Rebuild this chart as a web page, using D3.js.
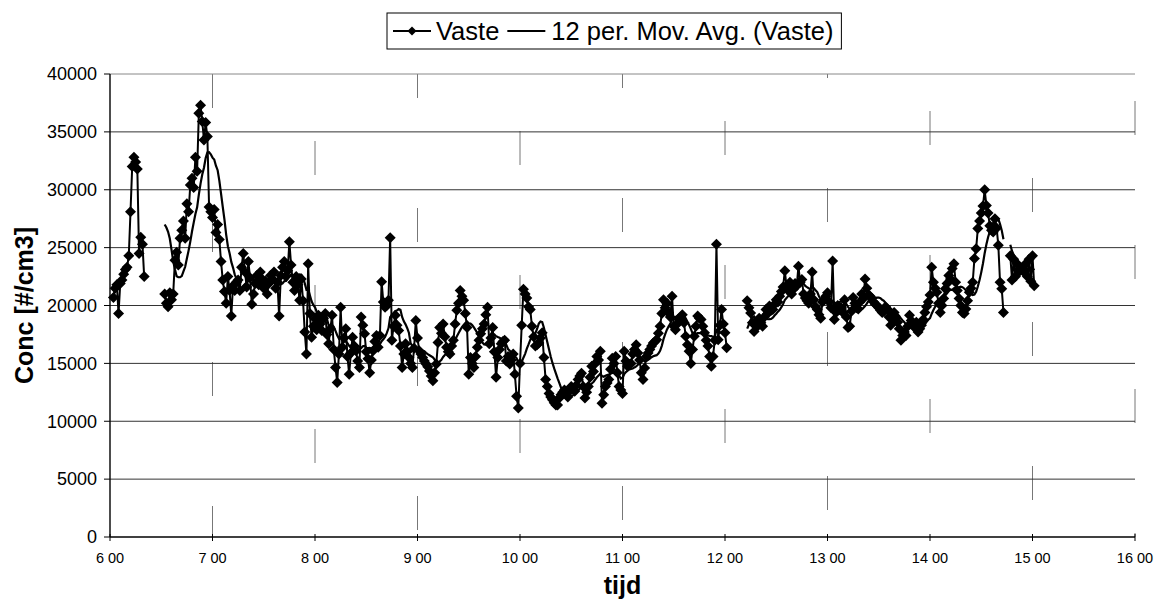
<!DOCTYPE html>
<meta charset="utf-8">
<style>
  body { margin: 0; background: #fff; }
  text { font-family: "Liberation Sans", Arial, sans-serif; fill: #000; }
</style>
<svg width="1176" height="613"></svg>
<script src="https://d3js.org/d3.v7.min.js"></script>
<script>

// measured series, one value per minute, blank between the runs
var runStarts = ["6:02", "6:32", "12:13", "14:47"];

var runA = [20700, 21500, 21800, 19300, 21900, 22200, 22700, 23100, 23300, 24300,
  28100, 32000, 32800, 32400, 31800, 24500, 25900, 25300, 22500];

var runB = [
  21000, 20200, 19900, 21100, 20500, 21000, 23900, 24600, 23500, 25800,
  26500, 27300, 25800, 28800, 28100, 30400, 31000, 30200, 32800, 31600,
  36600, 37300, 35900, 34300, 35800, 34600, 28500, 28100, 27600, 28300,
  26300, 27000, 25700, 23800, 22200, 21200, 20200, 22500, 21300, 19100,
  21700, 21300, 22000, 22200, 21300, 23300, 24500, 22900, 21600, 23800,
  22400, 20100, 21000, 21900, 22600, 21800, 22900, 22300, 21500, 22100,
  21000, 21900, 22600, 22300, 22900, 21500, 22000, 19100, 22600, 23300,
  23800, 22500, 23000, 25500, 23500, 22000, 21300, 22500, 21800, 20450,
  22300, 20400, 17700, 15800, 23600, 19300, 17250, 18200, 18850, 17900,
  19150, 18400, 17850, 18900, 19300, 17500, 16700, 18000, 19150, 16200,
  14650, 13350, 15800, 19850, 16400, 17200, 18000, 15600, 14050, 15900,
  17250, 16500, 16100, 15200, 14650, 19000, 18300, 17550, 16000, 15400,
  14200, 15300, 16100, 16900, 17400, 16400, 17400, 22050, 20300, 19850,
  20000, 20450, 25850, 17000, 18200, 19150, 18300, 17850, 16500, 14650,
  15800, 16700, 16000, 15500, 15000, 14650, 16300, 18700, 17200, 16100,
  15800, 15500, 15200, 14950, 14700, 14350, 13900, 13500, 14200, 14950,
  16800, 18100, 17600, 18400, 17300, 16400, 16000, 15800, 16500, 17000,
  18400, 19600, 20200, 21300, 20800, 20450, 19300, 18100, 14050, 15500,
  15000, 14650, 15600, 16400, 17000, 17550, 18000, 18400, 19200, 19850,
  16700, 17200, 18100, 16000, 13800, 15500, 16200, 16700, 16900, 17000,
  15200, 15600, 14950, 15300, 15800, 14050, 12150, 11150, 15000, 18300,
  21400, 21000, 20650, 19900, 19650, 18200, 17300, 16500, 16600, 16750,
  17200, 17650, 15500, 13600, 13000, 12400, 12100, 11850, 11600, 11400,
  11400, 12000, 12300, 12500, 12700, 12400, 12100, 12600, 13000, 12800,
  12600, 13100, 13600, 13900, 14150, 13000, 12000, 12500, 13000, 13800,
  14750, 14300, 15000, 15600, 15300, 16050, 11550, 12300, 13000, 13300,
  13600, 14500, 15450, 15000, 15600, 14200, 13000, 12700, 12400, 16050,
  15200, 14750, 14900, 15000, 15800, 16200, 16600, 15900, 15300, 14200,
  13600, 14600, 15600, 15900, 16200, 16500, 16750, 16900, 17050, 17600,
  18200, 19300, 20500, 19800, 20200, 19350, 19000, 20800, 18200, 17900,
  18400, 18800, 19000, 19200, 18500, 17350, 16600, 16050, 15000, 16200,
  17350, 18200, 19100, 18900, 18800, 18200, 17650, 17000, 16500, 15600,
  14750, 15600, 17000, 25300, 17050, 18300, 19650, 18400, 17650, 16350];

var runC = [
  20400, 19800, 19350, 18500, 17750, 18600, 18200, 18900, 18500, 18200,
  19000, 19650, 19300, 19950, 19600, 19650, 20100, 20500, 20300, 20800,
  21200, 21600, 23000, 21700, 21300, 22000, 21000, 21400, 21900, 21700,
  23400, 22000, 22250, 21000, 20650, 20400, 20200, 21000, 22900, 20500,
  19900, 19650, 19200, 18900, 20300, 20500, 20800, 21100, 20300, 19800,
  23850, 18800, 19400, 20000, 19650, 19800, 19400, 20500, 19000, 18100,
  18200, 19500, 20700, 20200, 19800, 19700, 20300, 21000, 20600, 22300,
  21500, 20900, 20800, 20600, 20300, 20100, 20000, 19800, 19600, 19400,
  19500, 19900, 19700, 19000, 18300, 18800, 19400, 18900, 18550, 18000,
  17000, 17400, 17700, 17400, 18200, 19150, 18700, 18300, 18100, 18550,
  17700, 18000, 18300, 18800, 19400, 19900, 20300, 20900, 23300, 22000,
  21500, 21150, 20200, 19400, 20000, 20600, 21450, 21900, 22600, 22300,
  23200, 23600, 22000, 21300, 20600, 20000, 19400, 19300, 19700, 20400,
  21150, 21500, 22000, 24050, 24900, 26650, 27300, 28000, 28600, 30000,
  28650, 28000, 26900, 26500, 26350, 27500, 26700, 25200, 22000, 21450,
  19400];

var runD = [24300, 22200, 24000, 22500, 23600, 22900, 23200, 23200, 22900, 23600,
  22500, 24000, 22100, 24300, 21700];

var runs = [runA, runB, runC, runD];

var yTicks = [0, 5000, 10000, 15000, 20000, 25000, 30000, 35000, 40000];
var xHours = [6, 7, 8, 9, 10, 11, 12, 13, 14, 15, 16];

var seriesName = "Vaste";
var avgName = "12 per. Mov. Avg. (Vaste)";
var avgPeriod = 12;

function minutes(s) {
  var p = s.split(":");
  return +p[0] * 60 + +p[1];
}

// points per run
var segments = runs.map(function(run, k) {
  var t0 = minutes(runStarts[k]);
  return run.map(function(v, i) { return {t: t0 + i, v: v}; });
});

// trailing moving average over the non-blank points, broken at the blanks
var seen = [];
var avgSegments = segments.map(function(seg) {
  var out = [];
  seg.forEach(function(d) {
    seen.push(d.v);
    if (seen.length >= avgPeriod) {
      out.push({t: d.t, v: d3.mean(seen.slice(-avgPeriod))});
    }
  });
  return out;
});
// the trendline only shows up from the second run on
avgSegments = avgSegments.slice(1);

var svg = d3.select("svg");
var plotLeft = 110, plotRight = 1135, plotTop = 74, plotBottom = 537;

var x = d3.scaleLinear().domain([360, 960]).range([plotLeft, plotRight]);
var y = d3.scaleLinear().domain([0, 40000]).range([plotBottom, plotTop]);

// faint remains of the vertical gridlines
svg.append("g")
  .selectAll("line")
  .data(xHours.slice(1))
  .enter().append("line")
    .attr("x1", function(d) { return x(d * 60); })
    .attr("x2", function(d) { return x(d * 60); })
    .attr("y1", plotTop)
    .attr("y2", plotBottom)
    .attr("stroke", "#777")
    .attr("stroke-width", 1)
    .attr("stroke-dasharray", "34,110")
    .attr("stroke-dashoffset", function(d, i) { return -((i * 67) % 144); });

// gridlines
svg.append("g")
  .selectAll("line")
  .data(yTicks.filter(function(d) { return d > 0; }))
  .enter().append("line")
    .attr("x1", plotLeft)
    .attr("x2", plotRight)
    .attr("y1", function(d) { return y(d); })
    .attr("y2", function(d) { return y(d); })
    .attr("stroke", function(d) { return d === 40000 ? "#888" : "#333"; })
    .attr("stroke-width", 1);

// y axis
var yAxis = svg.append("g");
yAxis.append("line")
  .attr("x1", plotLeft).attr("x2", plotLeft)
  .attr("y1", plotTop).attr("y2", plotBottom)
  .attr("stroke", "#000").attr("stroke-width", 1.4);
yAxis.selectAll(".tick")
  .data(yTicks)
  .enter().append("line")
    .attr("x1", plotLeft - 6).attr("x2", plotLeft)
    .attr("y1", function(d) { return y(d); })
    .attr("y2", function(d) { return y(d); })
    .attr("stroke", "#000");
yAxis.selectAll("text")
  .data(yTicks)
  .enter().append("text")
    .attr("x", plotLeft - 13)
    .attr("y", function(d) { return y(d); })
    .attr("dy", "0.35em")
    .attr("text-anchor", "end")
    .style("font-size", "18px")
    .text(function(d) { return d; });

// x axis
var xAxis = svg.append("g");
xAxis.append("line")
  .attr("x1", plotLeft).attr("x2", plotRight)
  .attr("y1", plotBottom).attr("y2", plotBottom)
  .attr("stroke", "#000").attr("stroke-width", 1.4);
xAxis.selectAll(".tick")
  .data(xHours)
  .enter().append("line")
    .attr("x1", function(d) { return x(d * 60); })
    .attr("x2", function(d) { return x(d * 60); })
    .attr("y1", plotBottom - 3).attr("y2", plotBottom + 4)
    .attr("stroke", "#000");
xAxis.selectAll("text")
  .data(xHours)
  .enter().append("text")
    .attr("x", function(d) { return x(d * 60); })
    .attr("y", plotBottom + 26)
    .attr("text-anchor", "middle")
    .style("font-size", "14.5px")
    .text(function(d) { return d + " 00"; });

// axis titles
svg.append("text")
  .attr("transform", "translate(33," + ((plotTop + plotBottom) / 2) + ") rotate(-90)")
  .attr("text-anchor", "middle")
  .style("font-size", "25px")
  .style("font-weight", "bold")
  .text("Conc [#/cm3]");

svg.append("text")
  .attr("x", (plotLeft + plotRight) / 2)
  .attr("y", 594)
  .attr("text-anchor", "middle")
  .style("font-size", "25px")
  .style("font-weight", "bold")
  .text("tijd");

// series
var line = d3.line()
  .x(function(d) { return x(d.t); })
  .y(function(d) { return y(d.v); });

var diamond = "M0,-5.5L5.5,0L0,5.5L-5.5,0Z";

svg.append("g")
  .selectAll("path")
  .data(segments)
  .enter().append("path")
    .attr("d", line)
    .attr("fill", "none")
    .attr("stroke", "#000")
    .attr("stroke-width", 2);

svg.append("g")
  .selectAll("path")
  .data(d3.merge(segments))
  .enter().append("path")
    .attr("d", diamond)
    .attr("transform", function(d) { return "translate(" + x(d.t) + "," + y(d.v) + ")"; })
    .attr("fill", "#000");

svg.append("g")
  .selectAll("path")
  .data(avgSegments.filter(function(s) { return s.length > 1; }))
  .enter().append("path")
    .attr("d", line)
    .attr("fill", "none")
    .attr("stroke", "#000")
    .attr("stroke-width", 2.2);

// legend
var legend = svg.append("g");
var boxLeft = 387;
var ly = 31;
var cx = boxLeft + 6;
legend.append("line")
  .attr("x1", cx).attr("x2", cx + 38)
  .attr("y1", ly).attr("y2", ly)
  .attr("stroke", "#000").attr("stroke-width", 2);
legend.append("path")
  .attr("d", "M0,-4.5L4.5,0L0,4.5L-4.5,0Z")
  .attr("transform", "translate(" + (cx + 19) + "," + ly + ")");
var t1 = legend.append("text")
  .attr("x", cx + 43).attr("y", ly).attr("dy", "0.35em")
  .style("font-size", "25.5px")
  .text(seriesName);
cx = cx + 43 + t1.node().getComputedTextLength() + 8;
legend.append("line")
  .attr("x1", cx).attr("x2", cx + 38)
  .attr("y1", ly).attr("y2", ly)
  .attr("stroke", "#000").attr("stroke-width", 2);
var t2 = legend.append("text")
  .attr("x", cx + 44).attr("y", ly).attr("dy", "0.35em")
  .style("font-size", "25.5px")
  .text(avgName);
cx = cx + 44 + t2.node().getComputedTextLength();
legend.insert("rect", ":first-child")
  .attr("x", boxLeft).attr("y", ly - 18)
  .attr("width", cx + 8 - boxLeft).attr("height", 36)
  .attr("fill", "#fff")
  .attr("stroke", "#000");

</script>
